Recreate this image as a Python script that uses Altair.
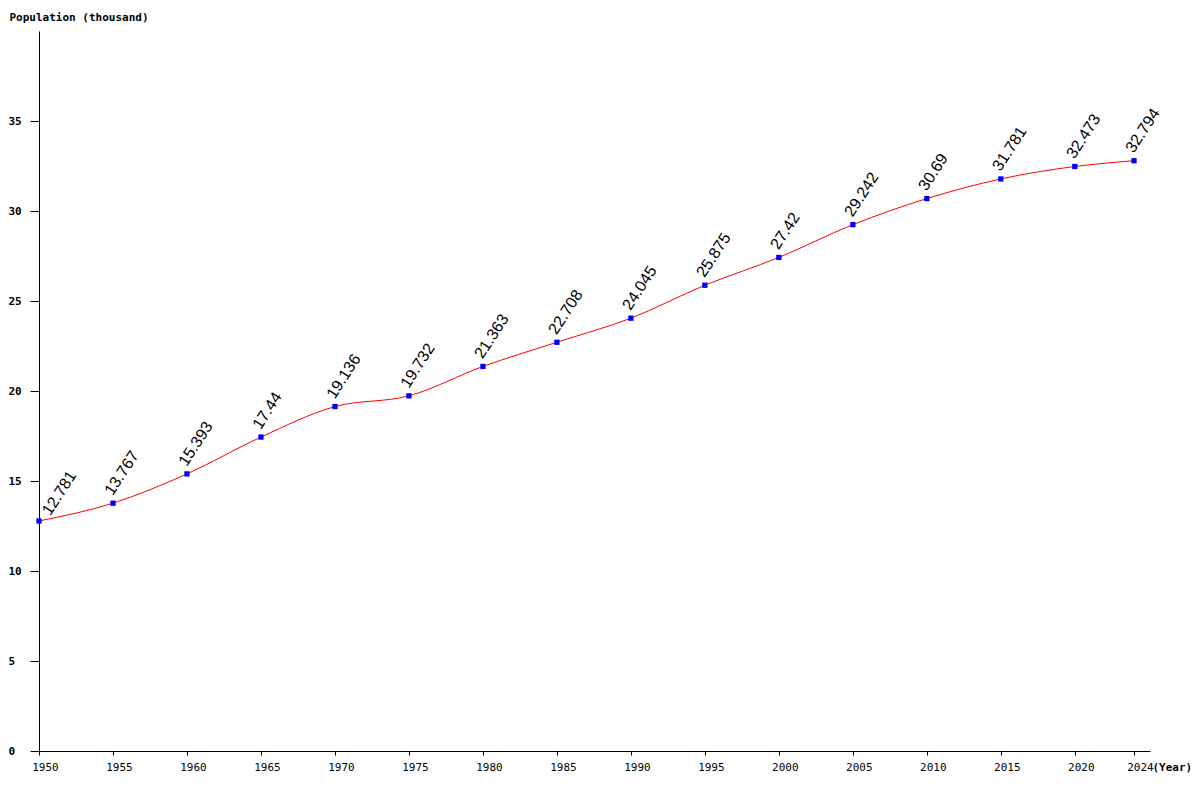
import altair as alt
import pandas as pd

years = [1950, 1955, 1960, 1965, 1970, 1975, 1980, 1985, 1990, 1995, 2000, 2005, 2010, 2015, 2020, 2024]
population = [12.781, 13.767, 15.393, 17.44, 19.136, 19.732, 21.363, 22.708, 24.045, 25.875, 27.42, 29.242, 30.69, 31.781, 32.473, 32.794]
labels = ["12.781", "13.767", "15.393", "17.44", "19.136", "19.732", "21.363", "22.708", "24.045", "25.875", "27.42", "29.242", "30.69", "31.781", "32.473", "32.794"]
y_ticks = [0, 5, 10, 15, 20, 25, 30, 35]
x_ticks = years

df = pd.DataFrame({"year": years, "pop": population, "label": labels})

W = 1111
H = 720
xscale = alt.Scale(domain=[1950, 1950 + W / ((1134 - 39) / 74)], nice=False, zero=False)
yscale = alt.Scale(domain=[0, 40], nice=False)

xaxis = alt.Axis(values=x_ticks, format="d", title="(Year)", titleAngle=0, titleAlign="left",
                 titleBaseline="middle", titleX=W + 2, titleY=16, titleFont="DejaVu Sans Mono",
                 titleFontSize=11, titleFontWeight="bold", labelFont="DejaVu Sans Mono", labelFontSize=11,
                 labelOffset=6, labelPadding=6, tickSize=4, grid=False, domainColor="black",
                 tickColor="black", labelColor="black", titleColor="black", labelFlush=False,
                 labelOverlap=False)
yaxis = alt.Axis(values=y_ticks, title="Population (thousand)", titleAngle=0, titleAlign="left",
                 titleBaseline="middle", titleX=-30, titleY=-14, titleFont="DejaVu Sans Mono",
                 titleFontSize=11, titleFontWeight="bold", labelFont="DejaVu Sans Mono", labelFontSize=11,
                 labelFontWeight="bold", labelAlign="left", labelPadding=22, tickSize=9, grid=False,
                 domainColor="black", tickColor="black", labelColor="black", titleColor="black")

base = alt.Chart(df)
enc = dict(x=alt.X("year:Q", scale=xscale), y=alt.Y("pop:Q", scale=yscale))

line = base.mark_line(color="red", strokeWidth=1, interpolate="monotone").encode(
    x=alt.X("year:Q", scale=xscale, axis=xaxis),
    y=alt.Y("pop:Q", scale=yscale, axis=yaxis),
)
pts = base.mark_square(color="blue", size=28, opacity=1).encode(**enc)
txt_first = base.transform_filter("datum.year == 1950").mark_text(
    angle=303, align="left", baseline="alphabetic", dx=10, dy=7, font="Liberation Sans",
    fontSize=16, color="black").encode(text="label:N", **enc)
txt_rest = base.transform_filter("datum.year != 1950").mark_text(
    angle=303, align="left", baseline="alphabetic", dx=5.6, dy=-4, font="Liberation Sans",
    fontSize=16, color="black").encode(text="label:N", **enc)

chart = alt.layer(line, pts, txt_first, txt_rest).properties(
    width=W, height=H,
    autosize=alt.AutoSizeParams(type="none"),
    padding={"left": 31, "top": 23, "right": 42, "bottom": 40},
    background="white",
).configure_view(stroke=None)

chart.save("out.html", embed_options={"renderer": "svg", "actions": False})
